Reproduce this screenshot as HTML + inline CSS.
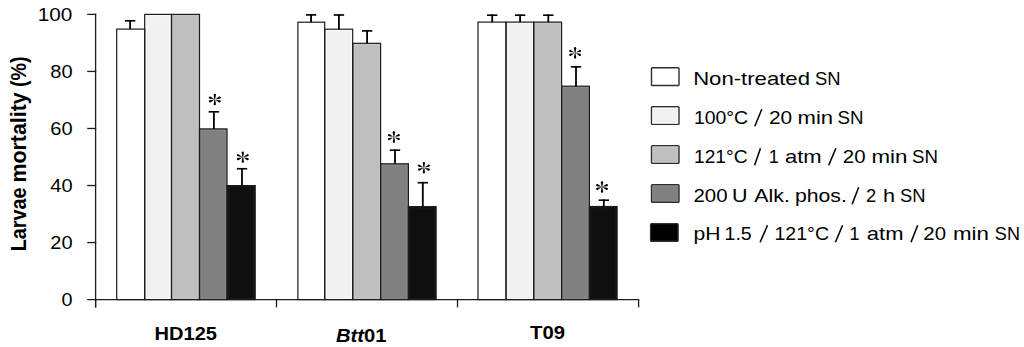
<!DOCTYPE html><html><head><meta charset="utf-8"><style>
html,body{margin:0;padding:0;background:#fff;overflow:hidden;}
svg{display:block;}
text{font-family:"Liberation Sans",sans-serif;fill:#000;}
</style></head><body>
<svg width="1024" height="347" viewBox="0 0 1024 347">
<rect width="1024" height="347" fill="#fff"/>
<rect x="116.7" y="29.1" width="28.00" height="270.50" fill="#ffffff"/>
<rect x="144.7" y="14.4" width="26.80" height="285.20" fill="#f1f1f1"/>
<rect x="171.5" y="14.4" width="28.00" height="285.20" fill="#bfbfbf"/>
<rect x="199.5" y="128.9" width="27.50" height="170.70" fill="#808080"/>
<rect x="227.0" y="185.6" width="28.20" height="114.00" fill="#0f0f0f"/>
<rect x="297.9" y="22.2" width="26.80" height="277.40" fill="#ffffff"/>
<rect x="324.7" y="29.2" width="28.00" height="270.40" fill="#f1f1f1"/>
<rect x="352.7" y="43.3" width="27.90" height="256.30" fill="#bfbfbf"/>
<rect x="380.6" y="163.8" width="27.80" height="135.80" fill="#808080"/>
<rect x="408.4" y="206.6" width="27.70" height="93.00" fill="#0f0f0f"/>
<rect x="478.0" y="22.1" width="28.00" height="277.50" fill="#ffffff"/>
<rect x="506.0" y="22.1" width="27.70" height="277.50" fill="#f1f1f1"/>
<rect x="533.7" y="22.1" width="27.90" height="277.50" fill="#bfbfbf"/>
<rect x="561.6" y="86.2" width="27.80" height="213.40" fill="#808080"/>
<rect x="589.4" y="206.5" width="27.70" height="93.10" fill="#0f0f0f"/>
<rect x="146.05" y="15.75" width="24.10" height="282.50" fill="none" stroke="#fafafa" stroke-width="1"/>
<rect x="172.85" y="15.75" width="25.30" height="282.50" fill="none" stroke="#c7c7c7" stroke-width="1"/>
<rect x="200.85" y="130.25" width="24.80" height="168.00" fill="none" stroke="#8a8a8a" stroke-width="1"/>
<rect x="228.35" y="186.95" width="25.50" height="111.30" fill="none" stroke="#1a1a1a" stroke-width="1"/>
<rect x="326.05" y="30.55" width="25.30" height="267.70" fill="none" stroke="#fafafa" stroke-width="1"/>
<rect x="354.05" y="44.65" width="25.20" height="253.60" fill="none" stroke="#c7c7c7" stroke-width="1"/>
<rect x="381.95" y="165.15" width="25.10" height="133.10" fill="none" stroke="#8a8a8a" stroke-width="1"/>
<rect x="409.75" y="207.95" width="25.00" height="90.30" fill="none" stroke="#1a1a1a" stroke-width="1"/>
<rect x="507.35" y="23.45" width="25.00" height="274.80" fill="none" stroke="#fafafa" stroke-width="1"/>
<rect x="535.05" y="23.45" width="25.20" height="274.80" fill="none" stroke="#c7c7c7" stroke-width="1"/>
<rect x="562.95" y="87.55" width="25.10" height="210.70" fill="none" stroke="#8a8a8a" stroke-width="1"/>
<rect x="590.75" y="207.85" width="25.00" height="90.40" fill="none" stroke="#1a1a1a" stroke-width="1"/>
<rect x="116.7" y="29.1" width="28.00" height="270.50" fill="none" stroke="#1c1c1c" stroke-width="1.2"/>
<rect x="144.7" y="14.4" width="26.80" height="285.20" fill="none" stroke="#1c1c1c" stroke-width="1.2"/>
<rect x="171.5" y="14.4" width="28.00" height="285.20" fill="none" stroke="#1c1c1c" stroke-width="1.2"/>
<rect x="199.5" y="128.9" width="27.50" height="170.70" fill="none" stroke="#1c1c1c" stroke-width="1.2"/>
<rect x="227.0" y="185.6" width="28.20" height="114.00" fill="none" stroke="#1c1c1c" stroke-width="1.2"/>
<rect x="297.9" y="22.2" width="26.80" height="277.40" fill="none" stroke="#1c1c1c" stroke-width="1.2"/>
<rect x="324.7" y="29.2" width="28.00" height="270.40" fill="none" stroke="#1c1c1c" stroke-width="1.2"/>
<rect x="352.7" y="43.3" width="27.90" height="256.30" fill="none" stroke="#1c1c1c" stroke-width="1.2"/>
<rect x="380.6" y="163.8" width="27.80" height="135.80" fill="none" stroke="#1c1c1c" stroke-width="1.2"/>
<rect x="408.4" y="206.6" width="27.70" height="93.00" fill="none" stroke="#1c1c1c" stroke-width="1.2"/>
<rect x="478.0" y="22.1" width="28.00" height="277.50" fill="none" stroke="#1c1c1c" stroke-width="1.2"/>
<rect x="506.0" y="22.1" width="27.70" height="277.50" fill="none" stroke="#1c1c1c" stroke-width="1.2"/>
<rect x="533.7" y="22.1" width="27.90" height="277.50" fill="none" stroke="#1c1c1c" stroke-width="1.2"/>
<rect x="561.6" y="86.2" width="27.80" height="213.40" fill="none" stroke="#1c1c1c" stroke-width="1.2"/>
<rect x="589.4" y="206.5" width="27.70" height="93.10" fill="none" stroke="#1c1c1c" stroke-width="1.2"/>
<line x1="130.1" y1="29.1" x2="130.1" y2="20.0" stroke="#000" stroke-width="1.8"/>
<line x1="124.90" y1="20.8" x2="135.30" y2="20.8" stroke="#000" stroke-width="1.65"/>
<line x1="213.9" y1="128.9" x2="213.9" y2="111.0" stroke="#000" stroke-width="1.8"/>
<line x1="208.70" y1="111.8" x2="219.10" y2="111.8" stroke="#000" stroke-width="1.65"/>
<line x1="242.0" y1="185.6" x2="242.0" y2="167.95" stroke="#000" stroke-width="1.8"/>
<line x1="236.80" y1="168.75" x2="247.20" y2="168.75" stroke="#000" stroke-width="1.65"/>
<line x1="311.05" y1="22.2" x2="311.05" y2="14.1" stroke="#000" stroke-width="1.8"/>
<line x1="305.85" y1="14.9" x2="316.25" y2="14.9" stroke="#000" stroke-width="1.65"/>
<line x1="338.9" y1="29.2" x2="338.9" y2="14.2" stroke="#000" stroke-width="1.8"/>
<line x1="333.70" y1="15.0" x2="344.10" y2="15.0" stroke="#000" stroke-width="1.65"/>
<line x1="367.1" y1="43.3" x2="367.1" y2="30.099999999999998" stroke="#000" stroke-width="1.8"/>
<line x1="361.90" y1="30.9" x2="372.30" y2="30.9" stroke="#000" stroke-width="1.65"/>
<line x1="395.0" y1="163.8" x2="395.0" y2="149.39999999999998" stroke="#000" stroke-width="1.8"/>
<line x1="389.80" y1="150.2" x2="400.20" y2="150.2" stroke="#000" stroke-width="1.65"/>
<line x1="422.8" y1="206.6" x2="422.8" y2="181.89999999999998" stroke="#000" stroke-width="1.8"/>
<line x1="417.60" y1="182.7" x2="428.00" y2="182.7" stroke="#000" stroke-width="1.65"/>
<line x1="492.2" y1="22.1" x2="492.2" y2="14.399999999999999" stroke="#000" stroke-width="1.8"/>
<line x1="487.00" y1="15.2" x2="497.40" y2="15.2" stroke="#000" stroke-width="1.65"/>
<line x1="520.1" y1="22.1" x2="520.1" y2="14.399999999999999" stroke="#000" stroke-width="1.8"/>
<line x1="514.90" y1="15.2" x2="525.30" y2="15.2" stroke="#000" stroke-width="1.65"/>
<line x1="548.3" y1="22.1" x2="548.3" y2="14.399999999999999" stroke="#000" stroke-width="1.8"/>
<line x1="543.10" y1="15.2" x2="553.50" y2="15.2" stroke="#000" stroke-width="1.65"/>
<line x1="576.0" y1="86.2" x2="576.0" y2="66.10000000000001" stroke="#000" stroke-width="1.8"/>
<line x1="570.80" y1="66.9" x2="581.20" y2="66.9" stroke="#000" stroke-width="1.65"/>
<line x1="603.8" y1="206.5" x2="603.8" y2="199.39999999999998" stroke="#000" stroke-width="1.8"/>
<line x1="598.60" y1="200.2" x2="609.00" y2="200.2" stroke="#000" stroke-width="1.65"/>
<g stroke="#1c1c1c" stroke-width="1.3" fill="none">
<line x1="95.6" y1="13.8" x2="95.6" y2="307.4"/>
<line x1="87.2" y1="14.40" x2="96.2" y2="14.40"/>
<line x1="87.2" y1="71.44" x2="96.2" y2="71.44"/>
<line x1="87.2" y1="128.48" x2="96.2" y2="128.48"/>
<line x1="87.2" y1="185.52" x2="96.2" y2="185.52"/>
<line x1="87.2" y1="242.56" x2="96.2" y2="242.56"/>
<line x1="87.2" y1="299.6" x2="639.2" y2="299.6"/>
<line x1="95.6" y1="299.6" x2="95.6" y2="307.4"/>
<line x1="276.5" y1="299.6" x2="276.5" y2="307.4"/>
<line x1="457.5" y1="299.6" x2="457.5" y2="307.4"/>
<line x1="638.6" y1="299.6" x2="638.6" y2="307.4"/>
</g>
<g transform="translate(214.8,99.5)" fill="#000"><path d="M0,-0.35 L4.65,-1.15 A1.15,1.15 0 0 1 4.65,1.15 L0,0.35 Z" transform="rotate(-90)"/><path d="M0,-0.35 L4.65,-1.15 A1.15,1.15 0 0 1 4.65,1.15 L0,0.35 Z" transform="rotate(90)"/><path d="M1.0,-0.1 L5.15,-1.15 A1.15,1.15 0 0 1 5.15,1.15 L1.0,0.1 Z" transform="rotate(-158)"/><path d="M1.0,-0.1 L5.15,-1.15 A1.15,1.15 0 0 1 5.15,1.15 L1.0,0.1 Z" transform="rotate(158)"/><path d="M1.0,-0.1 L5.15,-1.15 A1.15,1.15 0 0 1 5.15,1.15 L1.0,0.1 Z" transform="rotate(-22)"/><path d="M1.0,-0.1 L5.15,-1.15 A1.15,1.15 0 0 1 5.15,1.15 L1.0,0.1 Z" transform="rotate(22)"/></g>
<g transform="translate(242.8,157.2)" fill="#000"><path d="M0,-0.35 L4.65,-1.15 A1.15,1.15 0 0 1 4.65,1.15 L0,0.35 Z" transform="rotate(-90)"/><path d="M0,-0.35 L4.65,-1.15 A1.15,1.15 0 0 1 4.65,1.15 L0,0.35 Z" transform="rotate(90)"/><path d="M1.0,-0.1 L5.15,-1.15 A1.15,1.15 0 0 1 5.15,1.15 L1.0,0.1 Z" transform="rotate(-158)"/><path d="M1.0,-0.1 L5.15,-1.15 A1.15,1.15 0 0 1 5.15,1.15 L1.0,0.1 Z" transform="rotate(158)"/><path d="M1.0,-0.1 L5.15,-1.15 A1.15,1.15 0 0 1 5.15,1.15 L1.0,0.1 Z" transform="rotate(-22)"/><path d="M1.0,-0.1 L5.15,-1.15 A1.15,1.15 0 0 1 5.15,1.15 L1.0,0.1 Z" transform="rotate(22)"/></g>
<g transform="translate(393.9,137.1)" fill="#000"><path d="M0,-0.35 L4.65,-1.15 A1.15,1.15 0 0 1 4.65,1.15 L0,0.35 Z" transform="rotate(-90)"/><path d="M0,-0.35 L4.65,-1.15 A1.15,1.15 0 0 1 4.65,1.15 L0,0.35 Z" transform="rotate(90)"/><path d="M1.0,-0.1 L5.15,-1.15 A1.15,1.15 0 0 1 5.15,1.15 L1.0,0.1 Z" transform="rotate(-158)"/><path d="M1.0,-0.1 L5.15,-1.15 A1.15,1.15 0 0 1 5.15,1.15 L1.0,0.1 Z" transform="rotate(158)"/><path d="M1.0,-0.1 L5.15,-1.15 A1.15,1.15 0 0 1 5.15,1.15 L1.0,0.1 Z" transform="rotate(-22)"/><path d="M1.0,-0.1 L5.15,-1.15 A1.15,1.15 0 0 1 5.15,1.15 L1.0,0.1 Z" transform="rotate(22)"/></g>
<g transform="translate(423.9,167.7)" fill="#000"><path d="M0,-0.35 L4.65,-1.15 A1.15,1.15 0 0 1 4.65,1.15 L0,0.35 Z" transform="rotate(-90)"/><path d="M0,-0.35 L4.65,-1.15 A1.15,1.15 0 0 1 4.65,1.15 L0,0.35 Z" transform="rotate(90)"/><path d="M1.0,-0.1 L5.15,-1.15 A1.15,1.15 0 0 1 5.15,1.15 L1.0,0.1 Z" transform="rotate(-158)"/><path d="M1.0,-0.1 L5.15,-1.15 A1.15,1.15 0 0 1 5.15,1.15 L1.0,0.1 Z" transform="rotate(158)"/><path d="M1.0,-0.1 L5.15,-1.15 A1.15,1.15 0 0 1 5.15,1.15 L1.0,0.1 Z" transform="rotate(-22)"/><path d="M1.0,-0.1 L5.15,-1.15 A1.15,1.15 0 0 1 5.15,1.15 L1.0,0.1 Z" transform="rotate(22)"/></g>
<g transform="translate(575.1,52.9)" fill="#000"><path d="M0,-0.35 L4.65,-1.15 A1.15,1.15 0 0 1 4.65,1.15 L0,0.35 Z" transform="rotate(-90)"/><path d="M0,-0.35 L4.65,-1.15 A1.15,1.15 0 0 1 4.65,1.15 L0,0.35 Z" transform="rotate(90)"/><path d="M1.0,-0.1 L5.15,-1.15 A1.15,1.15 0 0 1 5.15,1.15 L1.0,0.1 Z" transform="rotate(-158)"/><path d="M1.0,-0.1 L5.15,-1.15 A1.15,1.15 0 0 1 5.15,1.15 L1.0,0.1 Z" transform="rotate(158)"/><path d="M1.0,-0.1 L5.15,-1.15 A1.15,1.15 0 0 1 5.15,1.15 L1.0,0.1 Z" transform="rotate(-22)"/><path d="M1.0,-0.1 L5.15,-1.15 A1.15,1.15 0 0 1 5.15,1.15 L1.0,0.1 Z" transform="rotate(22)"/></g>
<g transform="translate(602.0,187.0)" fill="#000"><path d="M0,-0.35 L4.65,-1.15 A1.15,1.15 0 0 1 4.65,1.15 L0,0.35 Z" transform="rotate(-90)"/><path d="M0,-0.35 L4.65,-1.15 A1.15,1.15 0 0 1 4.65,1.15 L0,0.35 Z" transform="rotate(90)"/><path d="M1.0,-0.1 L5.15,-1.15 A1.15,1.15 0 0 1 5.15,1.15 L1.0,0.1 Z" transform="rotate(-158)"/><path d="M1.0,-0.1 L5.15,-1.15 A1.15,1.15 0 0 1 5.15,1.15 L1.0,0.1 Z" transform="rotate(158)"/><path d="M1.0,-0.1 L5.15,-1.15 A1.15,1.15 0 0 1 5.15,1.15 L1.0,0.1 Z" transform="rotate(-22)"/><path d="M1.0,-0.1 L5.15,-1.15 A1.15,1.15 0 0 1 5.15,1.15 L1.0,0.1 Z" transform="rotate(22)"/></g>
<text x="72.4" y="21.00" font-size="19" text-anchor="end" textLength="34.6" lengthAdjust="spacingAndGlyphs">100</text>
<text x="72.6" y="78.04" font-size="19" text-anchor="end" textLength="22.3" lengthAdjust="spacingAndGlyphs">80</text>
<text x="72.6" y="135.08" font-size="19" text-anchor="end" textLength="22.3" lengthAdjust="spacingAndGlyphs">60</text>
<text x="72.6" y="192.12" font-size="19" text-anchor="end" textLength="22.3" lengthAdjust="spacingAndGlyphs">40</text>
<text x="72.6" y="249.16" font-size="19" text-anchor="end" textLength="22.3" lengthAdjust="spacingAndGlyphs">20</text>
<text x="72.6" y="306.20" font-size="19" text-anchor="end" textLength="11.0" lengthAdjust="spacingAndGlyphs">0</text>
<text x="154.6" y="339.7" font-size="18.6" font-weight="bold" textLength="62.4" lengthAdjust="spacingAndGlyphs">HD125</text>
<text x="336.0" y="342.0" font-size="18.6" font-weight="bold" textLength="50.4" lengthAdjust="spacingAndGlyphs"><tspan font-style="italic">Btt</tspan>01</text>
<text x="530.0" y="339.0" font-size="18.6" font-weight="bold" textLength="35.0" lengthAdjust="spacingAndGlyphs">T09</text>
<text transform="translate(26.3,251.2) rotate(-90)" font-size="22.8" font-weight="bold" textLength="63.6" lengthAdjust="spacingAndGlyphs">Larvae</text>
<text transform="translate(26.3,182.4) rotate(-90)" font-size="22.8" font-weight="bold" textLength="90.0" lengthAdjust="spacingAndGlyphs">mortality</text>
<text transform="translate(26.3,87.0) rotate(-90)" font-size="22.8" font-weight="bold" textLength="30.6" lengthAdjust="spacingAndGlyphs">(%)</text>
<rect x="651.5" y="67.75" width="27.5" height="17.7" fill="#ffffff" stroke="#2e2e2e" stroke-width="1.4" rx="0.8"/>
<rect x="651.5" y="106.7" width="27.5" height="17.7" fill="#f1f1f1" stroke="#2e2e2e" stroke-width="1.4" rx="0.8"/>
<rect x="652.95" y="108.15" width="24.6" height="14.8" fill="none" stroke="#fafafa" stroke-width="0.9"/>
<rect x="651.5" y="145.65" width="27.5" height="17.7" fill="#bfbfbf" stroke="#2e2e2e" stroke-width="1.4" rx="0.8"/>
<rect x="652.95" y="147.10" width="24.6" height="14.8" fill="none" stroke="#c7c7c7" stroke-width="0.9"/>
<rect x="651.5" y="184.6" width="27.5" height="17.7" fill="#808080" stroke="#2e2e2e" stroke-width="1.4" rx="0.8"/>
<rect x="652.95" y="186.05" width="24.6" height="14.8" fill="none" stroke="#8a8a8a" stroke-width="0.9"/>
<rect x="650.6" y="223.6" width="27.5" height="17.7" fill="#000000" stroke="#2e2e2e" stroke-width="1.4" rx="0.8"/>
<text x="693.15" y="84.7" font-size="18.6" textLength="116.82" lengthAdjust="spacingAndGlyphs">Non-treated</text>
<text x="814.95" y="84.7" font-size="18.6" textLength="25.54" lengthAdjust="spacingAndGlyphs">SN</text>
<text x="693.96" y="124.0" font-size="18.6" textLength="54.16" lengthAdjust="spacingAndGlyphs">100°C</text>
<line x1="754.80" y1="126.30" x2="761.80" y2="109.30" stroke="#000" stroke-width="1.55"/>
<text x="768.90" y="124.0" font-size="18.6" textLength="23.17" lengthAdjust="spacingAndGlyphs">20</text>
<text x="797.54" y="124.0" font-size="18.6" textLength="35.54" lengthAdjust="spacingAndGlyphs">min</text>
<text x="837.54" y="124.0" font-size="18.6" textLength="26.00" lengthAdjust="spacingAndGlyphs">SN</text>
<text x="693.96" y="162.9" font-size="18.6" textLength="53.61" lengthAdjust="spacingAndGlyphs">121°C</text>
<line x1="754.60" y1="165.20" x2="760.50" y2="148.20" stroke="#000" stroke-width="1.55"/>
<text x="768.66" y="162.9" font-size="18.6" textLength="10.05" lengthAdjust="spacingAndGlyphs">1</text>
<text x="784.91" y="162.9" font-size="18.6" textLength="36.64" lengthAdjust="spacingAndGlyphs">atm</text>
<line x1="828.70" y1="165.20" x2="835.90" y2="148.20" stroke="#000" stroke-width="1.55"/>
<text x="842.89" y="162.9" font-size="18.6" textLength="22.73" lengthAdjust="spacingAndGlyphs">20</text>
<text x="871.51" y="162.9" font-size="18.6" textLength="35.93" lengthAdjust="spacingAndGlyphs">min</text>
<text x="912.04" y="162.9" font-size="18.6" textLength="26.00" lengthAdjust="spacingAndGlyphs">SN</text>
<text x="693.44" y="201.9" font-size="18.6" textLength="34.13" lengthAdjust="spacingAndGlyphs">200</text>
<text x="732.04" y="201.9" font-size="18.6" textLength="15.48" lengthAdjust="spacingAndGlyphs">U</text>
<text x="754.26" y="201.9" font-size="18.6" textLength="35.61" lengthAdjust="spacingAndGlyphs">Alk.</text>
<text x="794.99" y="201.9" font-size="18.6" textLength="51.87" lengthAdjust="spacingAndGlyphs">phos.</text>
<line x1="852.10" y1="204.20" x2="858.70" y2="187.20" stroke="#000" stroke-width="1.55"/>
<text x="865.95" y="201.9" font-size="18.6" textLength="10.17" lengthAdjust="spacingAndGlyphs">2</text>
<text x="882.96" y="201.9" font-size="18.6" textLength="12.00" lengthAdjust="spacingAndGlyphs">h</text>
<text x="899.94" y="201.9" font-size="18.6" textLength="25.52" lengthAdjust="spacingAndGlyphs">SN</text>
<text x="693.41" y="240.0" font-size="18.6" textLength="26.97" lengthAdjust="spacingAndGlyphs">pH</text>
<text x="724.51" y="240.0" font-size="18.6" textLength="27.21" lengthAdjust="spacingAndGlyphs">1.5</text>
<line x1="760.10" y1="242.30" x2="767.50" y2="225.30" stroke="#000" stroke-width="1.55"/>
<text x="774.49" y="240.0" font-size="18.6" textLength="54.51" lengthAdjust="spacingAndGlyphs">121°C</text>
<line x1="835.40" y1="242.30" x2="842.60" y2="225.30" stroke="#000" stroke-width="1.55"/>
<text x="849.62" y="240.0" font-size="18.6" textLength="10.05" lengthAdjust="spacingAndGlyphs">1</text>
<text x="866.85" y="240.0" font-size="18.6" textLength="36.61" lengthAdjust="spacingAndGlyphs">atm</text>
<line x1="911.00" y1="242.30" x2="917.70" y2="225.30" stroke="#000" stroke-width="1.55"/>
<text x="923.39" y="240.0" font-size="18.6" textLength="22.73" lengthAdjust="spacingAndGlyphs">20</text>
<text x="953.06" y="240.0" font-size="18.6" textLength="35.93" lengthAdjust="spacingAndGlyphs">min</text>
<text x="994.87" y="240.0" font-size="18.6" textLength="25.08" lengthAdjust="spacingAndGlyphs">SN</text>
</svg></body></html>
